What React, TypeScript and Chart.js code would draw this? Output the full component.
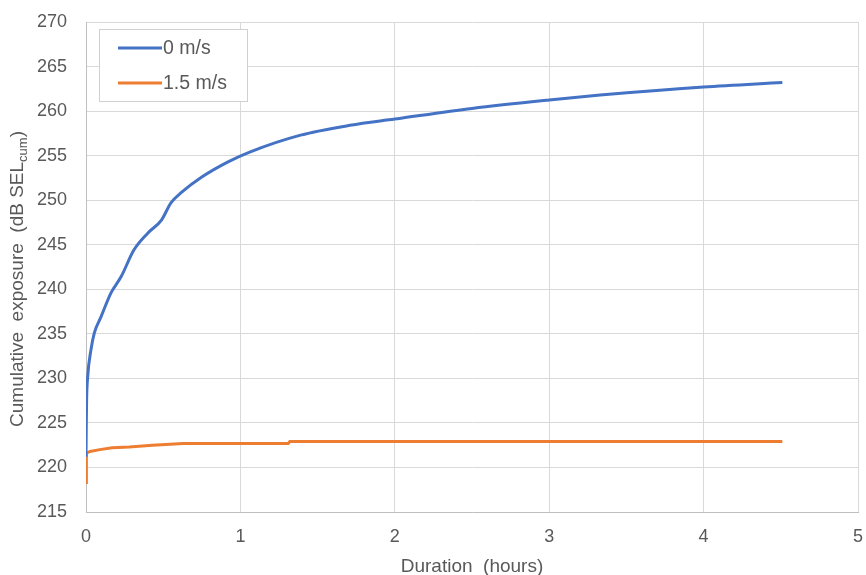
import React, { useEffect, useRef } from "react";
import { Chart, registerables } from "chart.js";

Chart.register(...registerables);

const seriesNames = ["0 m/s", "1.5 m/s"];
const seriesColors = ["#4472C4", "#ED7D31"];

const blueHours = [0, 0.002, 0.004, 0.011, 0.032, 0.054, 0.097, 0.162, 0.227, 0.31, 0.4, 0.49, 0.55, 0.62, 0.75, 0.92, 1.06, 1.39, 1.71, 2.0, 2.5, 3.0, 3.33, 4.0, 4.51];
const blueValues = [221.2, 225.0, 227.6, 230.2, 233.2, 235.1, 236.9, 239.6, 241.4, 244.4, 246.3, 247.8, 249.7, 250.9, 252.6, 254.3, 255.4, 257.3, 258.4, 259.1, 260.3, 261.25, 261.8, 262.7, 263.2];

const orangeHours = [0, 0.001, 0.004, 0.026, 0.09, 0.17, 0.28, 0.43, 0.63, 1.31, 1.32, 4.51];
const orangeValues = [218.3, 220.1, 221.6, 221.8, 222.0, 222.2, 222.3, 222.5, 222.7, 222.7, 222.9, 222.9];

const xTicks = [0, 1, 2, 3, 4, 5];
const yTicks = [215, 220, 225, 230, 235, 240, 245, 250, 255, 260, 265, 270];

const xTitle = "Duration  (hours)";
const yTitleMain = "Cumulative  exposure  (dB SEL";
const yTitleSub = "cum";
const yTitleEnd = ")";

const FONT = "Liberation Sans, Arial, sans-serif";
const TEXT = "#595959";

const overlayPlugin = {
  id: "overlay",
  afterDraw(chart: any) {
    const ctx = chart.ctx;
    const area = chart.chartArea;
    ctx.save();
    ctx.fillStyle = TEXT;
    ctx.font = `19px ${FONT}`;
    ctx.textAlign = "center";
    ctx.textBaseline = "middle";
    ctx.fillText(xTitle, (area.left + area.right) / 2, 567);
    const mainFont = `19px ${FONT}`;
    const subFont = `13px ${FONT}`;
    ctx.font = mainFont;
    const w1 = ctx.measureText(yTitleMain).width;
    const w3 = ctx.measureText(yTitleEnd).width;
    ctx.font = subFont;
    const w2 = ctx.measureText(yTitleSub).width;
    const total = w1 + w2 + w3;
    ctx.translate(18, (area.top + area.bottom) / 2 + 12);
    ctx.rotate(-Math.PI / 2);
    ctx.textAlign = "left";
    ctx.textBaseline = "middle";
    let x = -total / 2;
    ctx.font = mainFont;
    ctx.fillText(yTitleMain, x, 0);
    x += w1;
    ctx.font = subFont;
    ctx.fillText(yTitleSub, x, 5);
    x += w2;
    ctx.font = mainFont;
    ctx.fillText(yTitleEnd, x, 0);
    ctx.restore();

    ctx.save();
    ctx.fillStyle = "#ffffff";
    ctx.strokeStyle = "#d0d0d0";
    ctx.lineWidth = 1;
    ctx.fillRect(99.5, 29.5, 148, 72);
    ctx.strokeRect(99.5, 29.5, 148, 72);
    const rows = [48, 83];
    seriesNames.forEach((name, i) => {
      ctx.strokeStyle = seriesColors[i];
      ctx.lineWidth = 3;
      ctx.beginPath();
      ctx.moveTo(118, rows[i]);
      ctx.lineTo(162, rows[i]);
      ctx.stroke();
      ctx.fillStyle = TEXT;
      ctx.font = `19.5px ${FONT}`;
      ctx.textAlign = "left";
      ctx.textBaseline = "middle";
      ctx.fillText(name, 163, rows[i] + 1);
    });
    ctx.restore();
  },
};

export default function App() {
  const ref = useRef<HTMLCanvasElement>(null);
  useEffect(() => {
    if (!ref.current) return;
    const chart = new Chart(ref.current, {
      type: "line",
      data: {
        datasets: [
          {
            label: seriesNames[0],
            data: blueHours.map((h, i) => ({ x: h, y: blueValues[i] })),
            borderColor: seriesColors[0],
            borderWidth: 3,
            pointRadius: 0,
            cubicInterpolationMode: "monotone",
          },
          {
            label: seriesNames[1],
            data: orangeHours.map((h, i) => ({ x: h, y: orangeValues[i] })),
            borderColor: seriesColors[1],
            borderWidth: 3,
            pointRadius: 0,
            tension: 0,
          },
        ],
      },
      options: {
        responsive: false,
        animation: false,
        devicePixelRatio: 1,
        layout: { padding: { top: 22, right: 8, left: 0, bottom: 0 } },
        plugins: { legend: { display: false }, tooltip: { enabled: false } },
        scales: {
          x: {
            type: "linear",
            min: 0,
            max: 5,
            afterBuildTicks: (s: any) => {
              s.ticks = xTicks.map((v) => ({ value: v }));
            },
            afterFit: (s: any) => {
              s.height = 63;
              s.paddingLeft = 0;
              s.paddingRight = 0;
            },
            ticks: { color: TEXT, font: { family: FONT, size: 18 }, padding: 14 },
            grid: { color: "#d9d9d9", drawTicks: false },
            border: { color: "#bfbfbf" },
          },
          y: {
            type: "linear",
            min: 215,
            max: 270,
            afterBuildTicks: (s: any) => {
              s.ticks = yTicks.map((v) => ({ value: v }));
            },
            afterFit: (s: any) => {
              s.width = 86;
              s.paddingTop = 0;
              s.paddingBottom = 0;
            },
            ticks: { color: TEXT, font: { family: FONT, size: 18 }, padding: 19 },
            grid: { color: "#d9d9d9", drawTicks: false },
            border: { color: "#bfbfbf" },
          },
        },
      },
      plugins: [overlayPlugin],
    });
    return () => chart.destroy();
  }, []);
  return (
    <div style={{ position: "absolute", left: 0, top: 0, width: 866, height: 575, background: "#fff" }}>
      <canvas ref={ref} width={866} height={575} style={{ width: 866, height: 575 }} />
    </div>
  );
}
